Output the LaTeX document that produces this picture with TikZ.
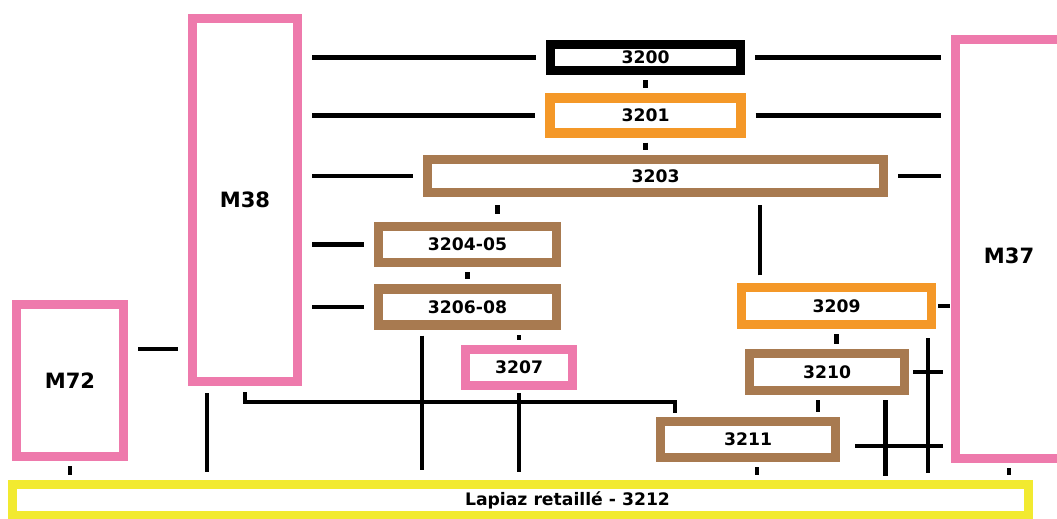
\documentclass[tikz,border=0pt]{standalone}
\usepackage{fontspec}
\setmainfont{DejaVu Sans}
\usepackage{tikz}
\usetikzlibrary{positioning,calc}
\definecolor{mPink}{RGB}{238,122,172}
\definecolor{bOrange}{RGB}{244,152,40}
\definecolor{bBrown}{RGB}{168,122,80}
\definecolor{lYellow}{RGB}{242,234,48}

\begin{document}
\begin{tikzpicture}[x=0.02cm, y=-0.02cm,
        every node/.style={font=\bfseries\fontsize{9.8}{11}\selectfont, align=center},
        box/.style={draw, line width=0.19cm, fill=white, inner sep=0pt},
        mbox/.style={box, draw=mPink, font=\bfseries\fontsize{12}{14}\selectfont},
        link/.style={line width=0.09cm, shorten <=0.2cm, shorten >=0.2cm},
        stub/.style={line width=0.09cm, shorten <=0.1cm, shorten >=0.1cm}]
        \useasboundingbox (0,0) rectangle (1057,519);
        \clip (0,0) rectangle (1057,519);

        % outcrops
        \node[mbox, minimum width=2.10cm, minimum height=7.26cm] (m38) at (245,200) {M38};
        \node[mbox, minimum width=2.14cm, minimum height=8.38cm] (m37) at (1009,249) {\smash{\raisebox{-0.3cm}{M37}}};
        \node[mbox, minimum width=2.14cm, minimum height=3.04cm] (m72) at (70,380.5) {M72};

        % units
        \node[box, draw=black, minimum width=3.80cm, minimum height=0.52cm] (b3200) at (645.5,57.5) {3200};
        \node[box, draw=bOrange, minimum width=3.82cm, minimum height=0.70cm, below=0.36cm of b3200] (b3201) {3201};
        \node[box, draw=bBrown, minimum width=9.12cm, minimum height=0.66cm] (b3203) at (655.5,176) {3203};
        \node[box, draw=bBrown, minimum width=3.56cm, minimum height=0.72cm] (b3204) at (467.5,244.5) {3204-05};
        \node[box, draw=bBrown, minimum width=3.56cm, minimum height=0.72cm, below=0.34cm of b3204] (b3206) {3206-08};
        \node[box, draw=mPink, minimum width=2.14cm, minimum height=0.72cm] (b3207) at (519,367.5) {3207};
        \node[box, draw=bOrange, minimum width=3.80cm, minimum height=0.74cm] (b3209) at (836.5,306) {3209};
        \node[box, draw=bBrown, minimum width=3.10cm, minimum height=0.74cm] (b3210) at (827,372) {3210};
        \node[box, draw=bBrown, minimum width=3.50cm, minimum height=0.72cm] (b3211) at (748,439.5) {3211};
        \node[box, draw=lYellow, minimum width=20.32cm, minimum height=0.62cm] (lapiaz) at (520.5,500)
            {\hspace*{1.88cm}Lapiaz retaillé - 3212};

        % links to M38 and M37
        \draw[link] (m38.east |- b3200) -- (b3200);
        \draw[link] (b3200) -- (b3200 -| m37.west);
        \draw[link] (m38.east |- b3201) -- (b3201);
        \draw[link] (b3201) -- (b3201 -| m37.west);
        \draw[link] (m38.east |- b3203) -- (b3203);
        \draw[link] (b3203) -- (b3203 -| m37.west);
        \draw[link] (m38.east |- b3204) -- (b3204);
        \draw[link] (m38.east |- b3206) -- (b3206);
        \draw[link, shorten <=0.04cm, shorten >=0.02cm] (b3209) -- (b3209 -| m37.west);
        \draw[link] ([yshift=-0.98cm]m72.north east) -- ([yshift=-0.98cm]m72.north east -| m38.west);

        % stacking
        \draw[stub] (b3200.south) -- (b3200.south |- b3201.north);
        \draw[stub] (b3201.south) -- (b3201.south |- b3203.north);
        \draw[stub, shorten <=0.16cm, shorten >=0.16cm] ([xshift=0.6cm]b3204.north) -- ([xshift=0.6cm]b3204.north |- b3203.south);
        \draw[link, shorten <=0.15cm, shorten >=0.15cm] ([xshift=-1.53cm]b3209.north) -- ([xshift=-1.53cm]b3209.north |- b3203.south);
        \draw[stub] (b3204) -- (b3206);
        \draw[stub] (b3207.north) -- (b3207.north |- b3206.south);
        \draw[stub] (b3209.south) -- (b3209.south |- b3210.north);
        \draw[stub] ([xshift=-0.18cm]b3210.south) -- ([xshift=-0.18cm]b3210.south |- b3211.north);

        % down to the lapiaz
        \draw[link, shorten <=0.12cm, shorten >=0.2cm] ([xshift=0.96cm]b3206.south west) -- ([xshift=0.96cm]b3206.south west |- lapiaz.north);
        \draw[link, shorten <=0.06cm, shorten >=0.16cm] (b3207.south) -- (b3207.south |- lapiaz.north);
        \draw[link, shorten <=0.14cm, shorten >=0.16cm] ([xshift=0.38cm]m38.south west) -- ([xshift=0.38cm]m38.south west |- lapiaz.north);
        \draw[link, shorten <=0.12cm, shorten >=0.08cm] (m38.south) -- ++(0,16) -| ([xshift=0.38cm]b3211.north west);
        \draw[stub] (m72.south) -- (m72.south |- lapiaz.north);
        \draw[stub] ([xshift=0.18cm]b3211.south) -- ([xshift=0.18cm]b3211.south |- lapiaz.north);
        \draw[stub] (m37.south) -- (m37.south |- lapiaz.north);

        % crossing lines
        \draw[link, shorten <=0.18cm, shorten >=0.14cm] ([xshift=-0.16cm]b3209.south east) -- ([xshift=-0.16cm]b3209.south east |- lapiaz.north);
        \draw[link, shorten <=0.1cm, shorten >=0.08cm] ([xshift=-0.48cm]b3210.south east) -- ([xshift=-0.48cm]b3210.south east |- lapiaz.north);
        \draw[link, shorten <=0.08cm, shorten >=0.16cm] (b3210) -- (b3210 -| m37.west);
        \draw[link, shorten <=0.3cm, shorten >=0.16cm] ([yshift=-0.13cm]b3211.east) -- ([yshift=-0.13cm]b3211.east -| m37.west);
\end{tikzpicture}
\end{document}
